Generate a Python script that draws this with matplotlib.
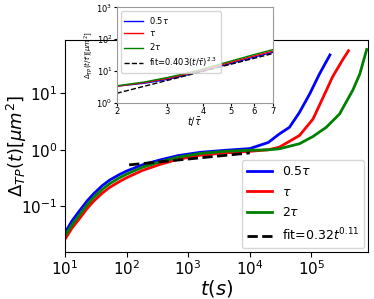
import matplotlib
matplotlib.use("Agg")
import matplotlib.pyplot as plt
from matplotlib.ticker import FixedLocator, NullLocator, FixedFormatter

# main panel data
t_blue = [10, 13, 17.5, 23, 29, 40, 53, 75, 100, 180, 347, 690, 1550, 4000, 1e4, 2e4, 3e4, 4.4e4, 6.4e4, 9.4e4, 1.35e5, 2e5]
v_blue = [0.034, 0.055, 0.085, 0.125, 0.165, 0.23, 0.29, 0.36, 0.42, 0.54, 0.66, 0.79, 0.9, 0.98, 1.05, 1.35, 1.9, 2.5, 4.6, 9.8, 22, 48]

t_red = [10, 13, 17.5, 23, 29, 40, 53, 75, 100, 180, 347, 690, 1550, 4000, 1e4, 2e4, 3e4, 6.4e4, 1.06e5, 1.55e5, 2.2e5, 3.2e5, 4e5]
v_red = [0.026, 0.041, 0.062, 0.092, 0.122, 0.17, 0.215, 0.27, 0.32, 0.43, 0.55, 0.68, 0.8, 0.88, 0.94, 1.0, 1.11, 1.79, 3.5, 8.5, 19.5, 39, 57]

t_green = [10, 13, 17.5, 23, 29, 40, 53, 75, 100, 180, 347, 690, 1550, 4000, 1e4, 2e4, 3e4, 6.4e4, 1.06e5, 1.74e5, 2.86e5, 4.7e5, 6.1e5, 7.9e5]
v_green = [0.030, 0.047, 0.072, 0.107, 0.142, 0.198, 0.25, 0.315, 0.37, 0.49, 0.61, 0.74, 0.86, 0.94, 0.98, 1.0, 1.04, 1.28, 1.72, 2.5, 4.3, 11.4, 22, 60]

t_fit = [110, 1e4]
v_fit = [0.54, 0.88]

# inset data
s_in = [2, 2.5, 3, 3.5, 4, 5, 6, 7]
blue_in = [3.3, 4.1, 5.4, 7.4, 10.0, 17.3, 27, 38.5]
red_in = [3.3, 4.3, 5.8, 8.0, 10.8, 18.8, 29.5, 42]
green_in = [3.4, 4.5, 6.2, 8.5, 11.6, 20.5, 32.5, 47]
s_fit = [2, 7]
v_fit_in = [1.98, 35.3]

labels = [r"$0.5\tau$", r"$\tau$", r"$2\tau$"]
colors = ["blue", "red", "green"]

fig = plt.figure(figsize=(3.74, 2.99), dpi=100)
ax = fig.add_axes([0.1738, 0.157, 0.8102, 0.709])

ax.plot(t_blue, v_blue, color=colors[0], lw=2, label=labels[0])
ax.plot(t_red, v_red, color=colors[1], lw=2, label=labels[1])
ax.plot(t_green, v_green, color=colors[2], lw=2, label=labels[2])
ax.plot(t_fit, v_fit, "k--", lw=2, label=r"fit=0.32$t^{0.11}$")
ax.set_xscale("log")
ax.set_yscale("log")
ax.set_xlim(10, 8.3e5)
ax.set_ylim(0.0154, 88)
ax.xaxis.set_minor_locator(NullLocator())
ax.yaxis.set_minor_locator(NullLocator())
ax.tick_params(labelsize=11, pad=2)
ax.set_xlabel(r"$t(s)$", fontsize=14, labelpad=0)
ax.set_ylabel(r"$\Delta_{TP}(t)[\mu m^2]$", fontsize=13)
ax.yaxis.set_label_coords(-0.118, 0.5)
ax.legend(loc="lower right", fontsize=9, handlelength=2, borderaxespad=0.3,
          labelspacing=0.6)

# inset
axi = fig.add_axes([0.312, 0.6565, 0.418, 0.319])
axi.plot(s_in, blue_in, color=colors[0], lw=1, label=labels[0])
axi.plot(s_in, red_in, color=colors[1], lw=1, label=labels[1])
axi.plot(s_in, green_in, color=colors[2], lw=1, label=labels[2])
axi.plot(s_fit, v_fit_in, "k--", lw=1, label=r"fit=0.403$(t/\bar{\tau})^{2.3}$")
axi.set_xscale("log")
axi.set_yscale("log")
axi.set_xlim(2, 7)
axi.set_ylim(1, 1000)
axi.xaxis.set_major_locator(FixedLocator([2, 3, 4, 5, 6, 7]))
axi.xaxis.set_major_formatter(FixedFormatter(["2", "3", "4", "5", "6", "7"]))
axi.xaxis.set_minor_locator(NullLocator())
axi.yaxis.set_minor_locator(NullLocator())
axi.tick_params(labelsize=6, length=2, pad=1)
for sp in axi.spines.values():
    sp.set_color("0.6")
axi.set_xlabel(r"$t/\bar{\tau}$", fontsize=7, labelpad=0)
axi.set_ylabel(r"$\Delta_{TP}(t/\bar{\tau})[\mu m^2]$", fontsize=5, labelpad=1)
axi.legend(loc="upper left", fontsize=6, handlelength=2.2, labelspacing=0.4)

fig.savefig("out.png", dpi=100)
